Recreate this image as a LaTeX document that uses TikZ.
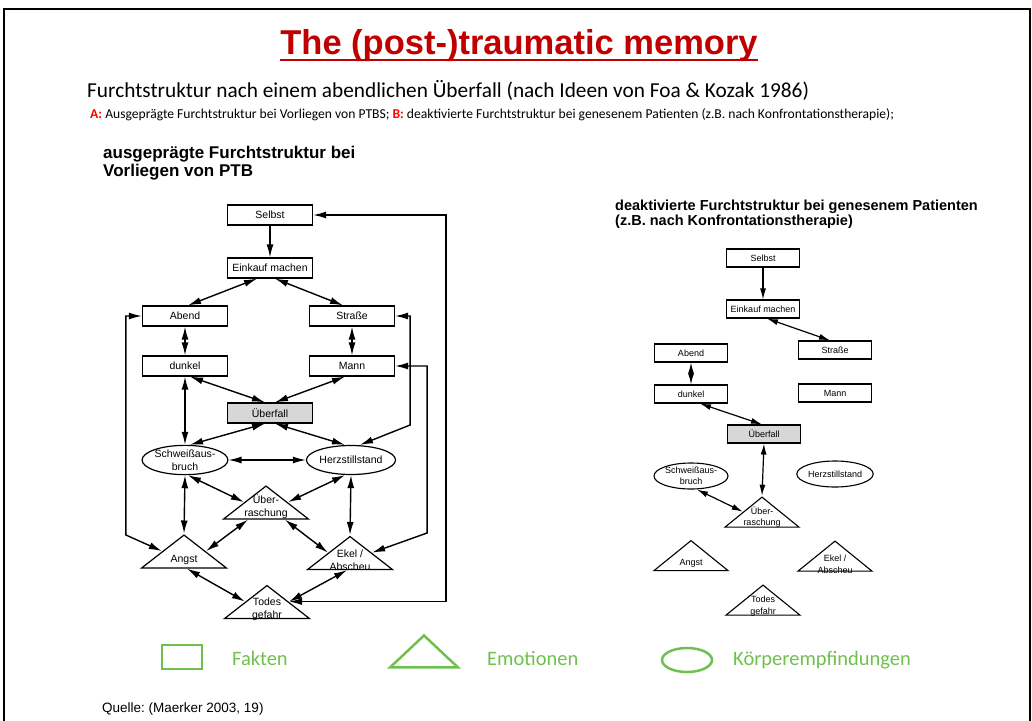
\documentclass[tikz,border=0pt]{standalone}
\usepackage{fontspec}
\setmainfont{Carlito}
\setsansfont{Liberation Sans}
\usetikzlibrary{arrows.meta}
\usetikzlibrary{shapes.geometric}
\frenchspacing

\definecolor{titlered}{RGB}{192,0,0}
\definecolor{keyred}{RGB}{255,0,0}
\definecolor{keygreen}{RGB}{112,192,80}
\definecolor{attack}{RGB}{215,215,215}

\begin{document}
\begin{tikzpicture}[x=1pt,y=-1pt,inner sep=0pt,
  factA/.style={draw,line width=1.2pt,minimum width=85pt,minimum height=20pt,font=\sffamily\fontsize{10.5}{13}\selectfont},
  bodyA/.style={draw,line width=1.2pt,ellipse,minimum width=84pt,minimum height=29pt,align=center,font=\sffamily\fontsize{10.5}{13}\selectfont},
  emoA/.style={draw,line width=1.2pt,isosceles triangle,isosceles triangle stretches,shape border rotate=90,minimum width=85pt,minimum height=33pt},
  textA/.style={align=center,font=\sffamily\fontsize{10.5}{13}\selectfont},
  factB/.style={draw,line width=1.1pt,minimum width=73pt,minimum height=18pt,font=\sffamily\fontsize{9}{11}\selectfont},
  bodyB/.style={draw,line width=1.1pt,ellipse,minimum width=74pt,minimum height=26pt,align=center,font=\sffamily\fontsize{9}{11}\selectfont},
  emoB/.style={draw,line width=1.1pt,isosceles triangle,isosceles triangle stretches,shape border rotate=90,minimum width=74pt,minimum height=30pt},
  textB/.style={align=center,font=\sffamily\fontsize{9}{11.5}\selectfont},
  bothA/.style={{Latex[length=13pt,width=7pt]}-{Latex[length=13pt,width=7pt]},line width=1.4pt},
  toA/.style={-{Latex[length=13pt,width=7pt]},line width=1.4pt},
  bothB/.style={{Latex[length=11pt,width=6pt]}-{Latex[length=11pt,width=6pt]},line width=1.2pt},
  toB/.style={-{Latex[length=11pt,width=6pt]},line width=1.2pt},
  key/.style={draw=keygreen,line width=2.5pt},
  keytext/.style={anchor=base west,text=keygreen,font=\fontsize{20.5}{24}\selectfont}]
\useasboundingbox (0,0) rectangle (1032,720);
\draw[line width=2.5pt] (4,760) -- (4,9) -- (1030,9) -- (1030,760);

\node[anchor=base,text=titlered,font=\sffamily\bfseries\fontsize{34.5}{40}\selectfont] (title) at (519,54) {The (post-)traumatic memory};
\draw[titlered,line width=2pt] ([yshift=-6pt]title.base west) -- ([yshift=-6pt]title.base east);
\node[anchor=base west,font=\fontsize{21.3}{25}\selectfont] (sub) at (87,97) {Furchtstruktur nach einem abendlichen Überfall (nach Ideen von Foa \& Kozak 1986)};
\node[anchor=base west,font=\fontsize{13.6}{16}\selectfont] (note) at (90,118) {\textcolor{keyred}{\textbf{A:}} Ausgeprägte Furchtstruktur bei Vorliegen von PTBS; \textcolor{keyred}{\textbf{B:}} deaktivierte Furchtstruktur bei genesenem Patienten (z.B. nach Konfrontationstherapie);};

\node[anchor=north west,align=left,font=\sffamily\bfseries\fontsize{17}{17.5}\selectfont] (headA) at (103,146) {ausgeprägte Furchtstruktur bei\\Vorliegen von PTB};
\node[anchor=north west,align=left,font=\sffamily\bfseries\fontsize{14.5}{13}\selectfont] (headB) at (615,200) {deaktivierte Furchtstruktur bei genesenem Patienten\\(z.B. nach Konfrontationstherapie)};

\node[factA] (selbstA) at (270,215) {Selbst};
\node[factA] (einkaufA) at (270,268) {Einkauf machen};
\node[factA] (abendA) at (185,316) {Abend};
\node[factA] (strasseA) at (352,316) {Straße};
\node[factA] (dunkelA) at (185,366) {dunkel};
\node[factA] (mannA) at (352,366) {Mann};
\node[factA,fill=attack] (ueberfallA) at (270,413) {Überfall};
\node[bodyA] (schweissA) at (185,460) {Schweißaus-\\bruch};
\node[bodyA] (herzA) at (351,460) {Herzstillstand};
\node[emoA] (ueberrA) at (266,504.5) {};
\node[emoA] (angstA) at (184,553.5) {};
\node[emoA] (ekelA) at (350,555) {};
\node[emoA] (todesA) at (267,604) {};
\node[textA] (ueberrAt) at (266,507) {Über-\\raschung};
\node[textA] (angstAt) at (184,560) {Angst};
\node[textA] (ekelAt) at (350,560) {Ekel /\\Abscheu};
\node[textA] (todesAt) at (267,609) {Todes\\gefahr};

\draw[toA] (selbstA) -- (einkaufA);
\draw[bothA] ([xshift=-13pt]einkaufA.south) -- ([xshift=3pt]abendA.north);
\draw[bothA] ([xshift=5pt]einkaufA.south) -- ([xshift=-9pt]strasseA.north);
\draw[bothA] (abendA) -- (dunkelA);
\draw[bothA] (strasseA) -- (mannA);
\draw[bothA] ([xshift=5pt]dunkelA.south) -- ([xshift=-5pt]ueberfallA.north);
\draw[bothA] ([xshift=-7pt]mannA.south) -- ([xshift=5pt]ueberfallA.north);
\draw[bothA] (dunkelA) -- (schweissA);
\draw[bothA] ([xshift=-5pt]ueberfallA.south) -- ([xshift=5pt]schweissA.north);
\draw[bothA] ([xshift=5pt]ueberfallA.south) -- ([xshift=-6pt]herzA.north);
\draw[bothA] (schweissA) -- (herzA);
\draw[bothA] ([xshift=3pt]schweissA.south) -- (ueberrA.left side);
\draw[bothA] ([xshift=-6pt]herzA.south) -- (ueberrA.right side);
\draw[bothA] (schweissA.south) -- (angstA.apex);
\draw[bothA] (herzA.south) -- (ekelA.apex);
\draw[bothA] ([xshift=-18pt]ueberrA.south) -- (angstA.right side);
\draw[bothA] ([xshift=19pt]ueberrA.south) -- (ekelA.left side);
\draw[bothA] ([xshift=3pt]angstA.south) -- (todesA.left side);
\draw[bothA] ([xshift=-3pt]ekelA.south) -- (todesA.right side);
\draw[bothA] (abendA.west) -- ++(-16,0) -- ++(0,219) -- (angstA.left side);
\draw[bothA] (strasseA.east) -- ++(15,0) -- ++(0,109) -- ([xshift=9pt]herzA.north);
\draw[bothA] (mannA.east) -- ++(32,0) -- ++(0,167) -- (ekelA.right side);
\draw[bothA] (selbstA.east) -- ++(133,0) |- (todesA.right side);

\node[factB] (selbstB) at (763,258) {Selbst};
\node[factB] (einkaufB) at (763,309) {Einkauf machen};
\node[factB] (abendB) at (691,353) {Abend};
\node[factB] (strasseB) at (835,350) {Straße};
\node[factB] (dunkelB) at (691,394) {dunkel};
\node[factB] (mannB) at (835,393) {Mann};
\node[factB,fill=attack] (ueberfallB) at (764,434) {Überfall};
\node[bodyB] (schweissB) at (691,476) {Schweißaus-\\bruch};
\node[bodyB] (herzB) at (835,474) {Herzstillstand};
\node[emoB] (ueberrB) at (762,514) {};
\node[emoB] (angstB) at (691,557.5) {};
\node[emoB] (ekelB) at (835,558) {};
\node[emoB] (todesB) at (763,602) {};
\node[textB] (ueberrBt) at (762,517) {Über-\\raschung};
\node[textB] (angstBt) at (691,563) {Angst};
\node[textB] (ekelBt) at (835,564.5) {Ekel /\\Abscheu};
\node[textB] (todesBt) at (763,606) {Todes\\gefahr};

\draw[toB] (selbstB) -- (einkaufB);
\draw[bothB] ([xshift=4pt]einkaufB.south) -- ([xshift=-5pt]strasseB.north);
\draw[bothB] (abendB) -- (dunkelB);
\draw[bothB] ([xshift=9pt]dunkelB.south) -- ([xshift=-2pt]ueberfallB.north);
\draw[bothB] (ueberfallB.south) -- (ueberrB.apex);
\draw[bothB] ([xshift=6pt]schweissB.south) -- (ueberrB.left side);

\node[key,minimum width=40pt,minimum height=24pt] (keyfact) at (182,657) {};
\node[key,isosceles triangle,isosceles triangle stretches,shape border rotate=90,minimum width=68pt,minimum height=32pt] (keyemo) at (424,654) {};
\node[key,ellipse,minimum width=50pt,minimum height=24pt] (keybody) at (687,660) {};
\node[keytext] (keyfactt) at (232,665) {Fakten};
\node[keytext] (keyemot) at (487,665) {Emotionen};
\node[keytext] (keybodyt) at (733,665) {Körperempfindungen};

\node[anchor=base west,font=\sffamily\fontsize{13.5}{16}\selectfont] (source) at (102,712) {Quelle: (Maerker 2003, 19)};
\end{tikzpicture}
\end{document}
